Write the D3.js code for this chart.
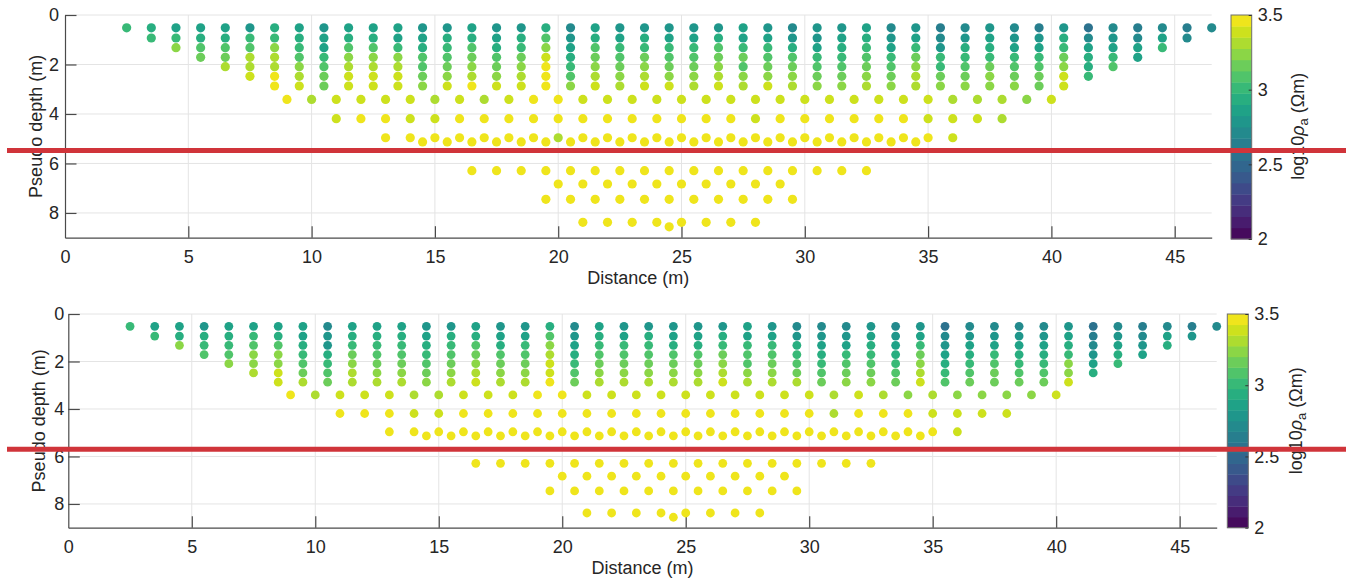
<!DOCTYPE html>
<html>
<head>
<meta charset="utf-8">
<script src="https://cdn.jsdelivr.net/npm/d3@7/dist/d3.min.js"></script>
<style>
  body { margin: 0; background: #fff; }
  svg { display: block; font-family: Arial, "Liberation Sans", sans-serif; }
</style>
</head>
<body>
<svg id="chart" width="1351" height="579"></svg>
<script>
// Pseudo depth (m) of each measurement level and the first station (m) on it.
// Stations along a level are 1 m apart.
var levelDepth = [0.52, 0.93, 1.32, 1.71, 2.09, 2.48, 2.87, 3.41, 4.19, 4.96, 5.13, 6.29, 6.83, 7.45, 8.38, 8.56]
var levelStart = [2.5, 3.5, 4.5, 5.5, 6.5, 7.5, 8.5, 9, 11, 13, 14.5, 16.5, 20, 19.5, 21, 24.5]

// log10 apparent resistivity, one row per level (top panel)
var rhoTop = [
  [3.01, 2.94, 2.86, 2.86, 2.86, 2.79, 2.94, 2.86, 2.79, 2.86, 2.86, 2.86, 2.79, 2.79, 2.86, 2.79, 2.79, 2.94, 2.71, 2.86, 2.79, 2.79, 2.79, 2.79, 2.79, 2.86, 2.79, 2.71, 2.79, 2.79, 2.86, 2.71, 2.79, 2.64, 2.71, 2.79, 2.71, 2.64, 2.79, 2.56, 2.71, 2.64, 2.71, 2.64, 2.71],
  [3.01, 3.01, 2.94, 2.94, 3.01, 3.01, 2.94, 2.86, 2.94, 2.94, 2.86, 2.86, 2.94, 2.94, 2.86, 2.94, 3.09, 2.79, 2.94, 2.86, 2.94, 2.86, 2.86, 2.94, 2.86, 2.86, 2.79, 2.79, 2.86, 2.94, 2.79, 2.86, 2.71, 2.79, 2.86, 2.79, 2.79, 2.94, 2.71, 2.79, 2.71, 2.86, 2.71],
  [3.24, 3.09, 3.09, 3.09, 3.24, 3.01, 2.86, 3.09, 3.09, 3.01, 2.94, 3.01, 3.09, 2.94, 3.01, 3.24, 2.86, 3.09, 3.01, 3.01, 3.01, 3.01, 3.09, 3.01, 3.01, 2.94, 2.86, 2.94, 3.01, 2.86, 3.01, 2.79, 2.94, 2.94, 2.86, 2.86, 3.01, 2.86, 2.86, 2.86, 3.01],
  [3.16, 3.16, 3.31, 3.31, 3.09, 3.01, 3.24, 3.24, 3.24, 3.09, 3.09, 3.16, 3.09, 3.16, 3.39, 2.94, 3.16, 3.09, 3.16, 3.09, 3.09, 3.16, 3.16, 3.09, 3.09, 3.01, 3.01, 3.09, 3.01, 3.16, 3.01, 3.01, 3.01, 3.01, 3.01, 3.16, 2.94, 3.01, 2.86],
  [3.31, 3.31, 3.31, 3.24, 3.09, 3.31, 3.31, 3.31, 3.09, 3.16, 3.24, 3.16, 3.24, 3.46, 3.01, 3.24, 3.16, 3.24, 3.16, 3.16, 3.24, 3.09, 3.16, 3.16, 3.09, 3.09, 3.16, 3.09, 3.24, 3.01, 3.09, 3.16, 3.09, 3.09, 3.24, 2.94, 3.09],
  [3.39, 3.46, 3.31, 3.16, 3.39, 3.39, 3.39, 3.16, 3.24, 3.31, 3.24, 3.31, 3.46, 3.09, 3.31, 3.24, 3.31, 3.24, 3.24, 3.31, 3.24, 3.24, 3.24, 3.16, 3.16, 3.24, 3.16, 3.31, 3.16, 3.16, 3.24, 3.16, 3.16, 3.39, 3.01],
  [3.46, 3.39, 3.16, 3.39, 3.39, 3.39, 3.24, 3.39, 3.46, 3.39, 3.39, 3.46, 3.24, 3.39, 3.31, 3.39, 3.39, 3.31, 3.39, 3.31, 3.39, 3.31, 3.24, 3.24, 3.31, 3.24, 3.31, 3.24, 3.24, 3.24, 3.24, 3.16, 3.39],
  [3.46, 3.31, 3.39, 3.39, 3.39, 3.39, 3.31, 3.39, 3.31, 3.39, 3.46, 3.46, 3.39, 3.39, 3.39, 3.39, 3.39, 3.39, 3.39, 3.39, 3.39, 3.39, 3.39, 3.39, 3.39, 3.39, 3.39, 3.31, 3.31, 3.31, 3.24, 3.39],
  [3.39, 3.46, 3.46, 3.39, 3.39, 3.46, 3.46, 3.46, 3.46, 3.46, 3.46, 3.46, 3.46, 3.46, 3.46, 3.46, 3.46, 3.39, 3.46, 3.46, 3.46, 3.46, 3.46, 3.46, 3.39, 3.39, 3.39, 3.31],
  [3.46, 3.46, 3.46, 3.46, 3.46, 3.46, 3.46, 3.31, 3.46, 3.46, 3.46, 3.46, 3.46, 3.46, 3.46, 3.46, 3.46, 3.46, 3.46, 3.46, 3.46, 3.46, 3.46, 3.39],
  [3.46, 3.46, 3.46, 3.46, 3.46, 3.46, 3.46, 3.46, 3.46, 3.46, 3.46, 3.46, 3.46, 3.46, 3.46, 3.46, 3.46, 3.46, 3.46, 3.46, 3.46],
  [3.46, 3.46, 3.46, 3.46, 3.46, 3.46, 3.46, 3.46, 3.46, 3.46, 3.46, 3.46, 3.46, 3.46, 3.46, 3.46, 3.46],
  [3.46, 3.46, 3.46, 3.46, 3.46, 3.46, 3.46, 3.46, 3.46, 3.46],
  [3.46, 3.46, 3.46, 3.46, 3.46, 3.46, 3.46, 3.46, 3.46, 3.46, 3.46],
  [3.46, 3.46, 3.46, 3.46, 3.46, 3.46, 3.46, 3.46],
  [3.46]
]

// log10 apparent resistivity, bottom panel
var rhoBottom = [
  [3.01, 2.86, 2.86, 2.79, 2.86, 2.86, 2.86, 2.86, 2.71, 2.86, 2.86, 2.86, 2.79, 2.79, 2.86, 2.79, 2.79, 2.94, 2.71, 2.86, 2.79, 2.79, 2.79, 2.79, 2.79, 2.86, 2.79, 2.71, 2.71, 2.71, 2.79, 2.71, 2.79, 2.56, 2.71, 2.71, 2.71, 2.71, 2.79, 2.56, 2.71, 2.64, 2.71, 2.64, 2.71],
  [3.01, 2.94, 2.94, 2.94, 3.01, 2.94, 2.86, 2.79, 2.94, 2.94, 2.94, 2.86, 2.94, 2.94, 2.86, 2.86, 3.09, 2.79, 2.94, 2.86, 2.94, 2.86, 2.86, 2.94, 2.86, 2.86, 2.79, 2.79, 2.79, 2.86, 2.79, 2.86, 2.71, 2.79, 2.79, 2.79, 2.79, 2.86, 2.64, 2.79, 2.71, 2.86, 2.79],
  [3.24, 3.01, 3.01, 3.09, 3.09, 2.94, 2.79, 3.01, 3.01, 3.01, 2.94, 3.01, 3.09, 2.94, 3.01, 3.24, 2.86, 3.01, 3.01, 3.01, 2.94, 2.94, 3.01, 3.01, 3.01, 2.94, 2.86, 2.86, 2.94, 2.86, 3.01, 2.79, 2.86, 2.86, 2.86, 2.86, 2.94, 2.71, 2.86, 2.79, 2.94],
  [3.09, 3.09, 3.24, 3.24, 3.01, 2.94, 3.16, 3.09, 3.09, 3.01, 3.09, 3.16, 3.09, 3.09, 3.31, 2.94, 3.09, 3.09, 3.09, 3.09, 3.09, 3.16, 3.09, 3.09, 3.01, 2.94, 3.01, 3.01, 2.94, 3.16, 2.86, 2.94, 3.01, 2.94, 2.94, 3.01, 2.79, 2.94, 2.86],
  [3.24, 3.24, 3.24, 3.09, 3.01, 3.24, 3.16, 3.16, 3.09, 3.16, 3.24, 3.16, 3.16, 3.39, 3.01, 3.16, 3.16, 3.16, 3.16, 3.16, 3.24, 3.09, 3.16, 3.09, 3.01, 3.09, 3.09, 3.01, 3.24, 2.94, 3.01, 3.09, 3.01, 3.01, 3.24, 2.86, 3.01],
  [3.31, 3.39, 3.16, 3.09, 3.31, 3.24, 3.24, 3.16, 3.24, 3.31, 3.24, 3.24, 3.39, 3.09, 3.24, 3.24, 3.24, 3.24, 3.24, 3.31, 3.24, 3.24, 3.16, 3.09, 3.16, 3.16, 3.09, 3.31, 3.01, 3.09, 3.16, 3.09, 3.09, 3.24, 2.94],
  [3.39, 3.31, 3.16, 3.31, 3.31, 3.31, 3.24, 3.31, 3.39, 3.31, 3.31, 3.46, 3.16, 3.31, 3.31, 3.31, 3.31, 3.31, 3.39, 3.31, 3.31, 3.31, 3.16, 3.24, 3.24, 3.16, 3.39, 3.09, 3.16, 3.16, 3.16, 3.16, 3.39],
  [3.46, 3.31, 3.39, 3.39, 3.39, 3.31, 3.31, 3.39, 3.39, 3.39, 3.46, 3.46, 3.39, 3.39, 3.39, 3.39, 3.39, 3.39, 3.39, 3.39, 3.39, 3.39, 3.31, 3.39, 3.31, 3.24, 3.31, 3.24, 3.24, 3.24, 3.24, 3.39],
  [3.46, 3.46, 3.46, 3.39, 3.39, 3.46, 3.46, 3.46, 3.46, 3.46, 3.46, 3.46, 3.46, 3.46, 3.46, 3.46, 3.46, 3.46, 3.46, 3.46, 3.31, 3.46, 3.46, 3.46, 3.39, 3.39, 3.39, 3.39],
  [3.46, 3.46, 3.46, 3.46, 3.46, 3.46, 3.46, 3.46, 3.46, 3.46, 3.46, 3.46, 3.46, 3.46, 3.46, 3.46, 3.46, 3.46, 3.46, 3.46, 3.46, 3.46, 3.46, 3.39],
  [3.46, 3.46, 3.46, 3.46, 3.46, 3.46, 3.46, 3.46, 3.46, 3.46, 3.46, 3.46, 3.46, 3.46, 3.46, 3.46, 3.46, 3.46, 3.46, 3.46, 3.46],
  [3.46, 3.46, 3.46, 3.46, 3.46, 3.46, 3.46, 3.46, 3.46, 3.46, 3.46, 3.46, 3.46, 3.46, 3.46, 3.46, 3.46],
  [3.46, 3.46, 3.46, 3.46, 3.46, 3.46, 3.46, 3.46, 3.46, 3.46],
  [3.46, 3.46, 3.46, 3.46, 3.46, 3.46, 3.46, 3.46, 3.46, 3.46, 3.46],
  [3.46, 3.46, 3.46, 3.46, 3.46, 3.46, 3.46, 3.46],
  [3.46]
]

var xTicks = [0, 5, 10, 15, 20, 25, 30, 35, 40, 45]
var yTicks = [0, 2, 4, 6, 8]
var cbTicks = [2, 2.5, 3, 3.5]
var colourLevels = 20

// Depth (m) of the red marker line drawn across each panel
var cutDepth = [5.48, 5.70]

var svg = d3.select('#chart')

var colour = d3.scaleQuantize()
  .domain([2, 3.5])
  .range(d3.range(colourLevels).map(function (i) { return d3.interpolateViridis((i + 0.5) / colourLevels) }))

// Layout of each panel in pixels
var panels = [
  { left: 65, right: 1211.7, top: 15, bottom: 237.7, cbX: 1231, cbW: 20.7, cbBottom: 239, r: 4.6,
    yLabelX: 41.5, xLabelY: 284, cbLabelX: 1304, yPad: 6, data: rhoTop, cut: cutDepth[0] },
  { left: 68.3, right: 1216.7, top: 314, bottom: 527.7, cbX: 1227.3, cbW: 21, cbBottom: 527.7, r: 4.4,
    yLabelX: 44.5, xLabelY: 574, cbLabelX: 1302, yPad: 4, data: rhoBottom, cut: cutDepth[1] }
]

panels.forEach(drawPanel)

/**
 * Draw one pseudo-section with its colour bar
 */
function drawPanel (p) {
  var x = d3.scaleLinear().domain([0, 46.5]).range([p.left, p.right])
  var y = d3.scaleLinear().domain([0, 9]).range([p.top, p.bottom])
  var tickLen = 11.5

  var g = svg.append('g')

  // grid
  g.append('g').selectAll('line')
    .data(xTicks.slice(1))
    .enter().append('line')
    .attr('x1', function (d) { return x(d) }).attr('x2', function (d) { return x(d) })
    .attr('y1', p.top).attr('y2', p.bottom)
    .attr('stroke', '#e4e4e4').attr('stroke-width', 1)

  g.append('g').selectAll('line')
    .data(yTicks)
    .enter().append('line')
    .attr('x1', p.left).attr('x2', p.right)
    .attr('y1', function (d) { return y(d) }).attr('y2', function (d) { return y(d) })
    .attr('stroke', '#e4e4e4').attr('stroke-width', 1)

  // axes
  var xAxis = g.append('g')
    .attr('transform', 'translate(0,' + p.bottom + ')')
    .call(d3.axisBottom(x).tickValues(xTicks).tickSizeInner(-tickLen).tickSizeOuter(0).tickPadding(12.5))
  var yAxis = g.append('g')
    .attr('transform', 'translate(' + p.left + ',0)')
    .call(d3.axisLeft(y).tickValues(yTicks).tickSizeInner(-tickLen).tickSizeOuter(0).tickPadding(p.yPad))

  ;[xAxis, yAxis].forEach(function (a) {
    a.select('.domain').attr('stroke', '#4a4a4a').attr('stroke-width', 1.2)
    a.selectAll('.tick line').attr('stroke', '#4a4a4a').attr('stroke-width', 1.2)
    a.selectAll('.tick text').attr('fill', '#262626').style('font-size', '18px')
  })
  xAxis.selectAll('.tick').filter(function (d) { return d === 0 }).select('line').remove()

  // measurement points
  var points = []
  p.data.forEach(function (row, k) {
    row.forEach(function (v, i) {
      points.push({ x: levelStart[k] + i, d: levelDepth[k], v: v })
    })
  })

  g.append('g').selectAll('circle')
    .data(points)
    .enter().append('circle')
    .attr('cx', function (d) { return x(d.x) })
    .attr('cy', function (d) { return y(d.d) })
    .attr('r', p.r)
    .attr('fill', function (d) { return colour(d.v) })

  // axis labels
  g.append('text')
    .attr('x', (p.left + p.right) / 2).attr('y', p.xLabelY)
    .attr('text-anchor', 'middle').attr('fill', '#262626')
    .style('font-size', '18px')
    .text('Distance (m)')

  g.append('text')
    .attr('transform', 'translate(' + p.yLabelX + ',' + (p.top + p.bottom) / 2 + ') rotate(-90)')
    .attr('text-anchor', 'middle').attr('fill', '#262626')
    .style('font-size', '18px')
    .text('Pseudo depth (m)')

  // colour bar
  var cy = d3.scaleLinear().domain([2, 3.5]).range([p.cbBottom, p.top])
  var step = 1.5 / colourLevels
  g.append('g').selectAll('rect')
    .data(d3.range(colourLevels))
    .enter().append('rect')
    .attr('x', p.cbX).attr('width', p.cbW)
    .attr('y', function (i) { return cy(2 + (i + 1) * step) })
    .attr('height', function (i) { return cy(2 + i * step) - cy(2 + (i + 1) * step) + 0.4 })
    .attr('fill', function (i) { return colour(2 + (i + 0.5) * step) })

  g.append('rect')
    .attr('x', p.cbX).attr('y', p.top).attr('width', p.cbW).attr('height', p.cbBottom - p.top)
    .attr('fill', 'none').attr('stroke', '#6e6e6e').attr('stroke-width', 1)

  var cbAxis = g.append('g')
    .attr('transform', 'translate(' + (p.cbX + p.cbW) + ',0)')
    .call(d3.axisRight(cy).tickValues(cbTicks).tickFormat(d3.format('')).tickSizeInner(-3).tickSizeOuter(0).tickPadding(6))
  cbAxis.select('.domain').remove()
  cbAxis.selectAll('.tick line').attr('stroke', '#333')
  cbAxis.selectAll('.tick text').attr('fill', '#262626').style('font-size', '18px')

  var lab = g.append('text')
    .attr('transform', 'translate(' + p.cbLabelX + ',' + (p.top + p.bottom) / 2 + ') rotate(-90)')
    .attr('text-anchor', 'middle').attr('fill', '#262626')
    .style('font-size', '18px')
  lab.append('tspan').text('log10')
  lab.append('tspan').style('font-style', 'italic').text('\u03C1')
  lab.append('tspan').attr('dy', 4).style('font-size', '13px').text('a')
  lab.append('tspan').attr('dy', -4).text(' (\u03A9m)')

  // red marker line across the whole figure
  svg.append('line')
    .attr('x1', 7).attr('x2', 1346)
    .attr('y1', y(p.cut)).attr('y2', y(p.cut))
    .attr('stroke', '#d0343a').attr('stroke-width', 5)
}
</script>
</body>
</html>
